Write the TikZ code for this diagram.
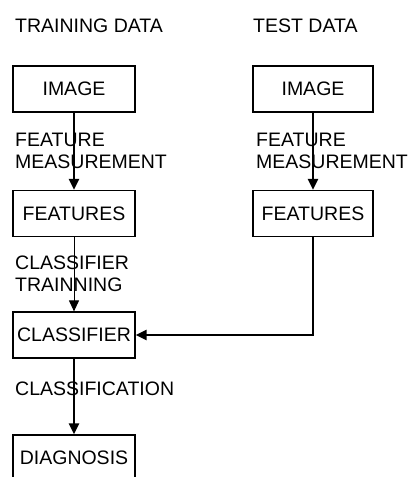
\documentclass[tikz,border=0pt]{standalone}
\usepackage{fontspec}
\setmainfont{Liberation Sans}
\usetikzlibrary{arrows.meta}

\begin{document}
\begin{tikzpicture}[x=1pt, y=-1pt,
    box/.style={draw, line width=1.2pt, minimum width=122pt, minimum height=46pt,
      inner sep=0pt, font=\fontsize{19.5}{22}\selectfont},
    lbl/.style={anchor=north west, inner sep=0pt, align=left,
      font=\fontsize{19.5}{22}\selectfont},
    flow/.style={-{Triangle[width=10pt,length=11pt]}, line width=2.5pt},
    thinflow/.style={-{Triangle[width=10pt,length=11pt]}, line width=1pt}]
      \path[use as bounding box, clip] (0, 0) rectangle (409, 477);

      % Boxes
      \node[box] (trainimg) at (74, 89) {IMAGE};
      \node[box] (trainfeat) at (74, 213.5) {FEATURES};
      \node[box] (classifier) at (74, 335) {CLASSIFIER};
      \node[box] (diagnosis) at (74, 458) {DIAGNOSIS};
      \node[box, minimum width=120pt] (testimg) at (313, 89) {IMAGE};
      \node[box, minimum width=120pt] (testfeat) at (313, 213.5) {FEATURES};

      % Labels
      \node[lbl] (trainlbl) at (15, 18.5) {TRAINING DATA};
      \node[lbl] (testlbl) at (253, 18.5) {TEST DATA};
      \node[lbl] (trainmeas) at (15, 133) {FEATURE\\MEASUREMENT};
      \node[lbl] (testmeas) at (256, 133) {FEATURE\\MEASUREMENT};
      \node[lbl] (trainclf) at (15, 256) {CLASSIFIER\\TRAINNING};
      \node[lbl] (classlbl) at (15, 382) {CLASSIFICATION};

      % Arrows
      \draw[flow] (trainimg) -- (trainfeat);
      \draw[flow] (testimg) -- (testfeat);
      \draw[thinflow] (trainfeat) -- (classifier);
      \draw[flow] (testfeat.south) |- (classifier.east);
      \draw[flow] (classifier) -- (diagnosis);
    \end{tikzpicture}
\end{document}
